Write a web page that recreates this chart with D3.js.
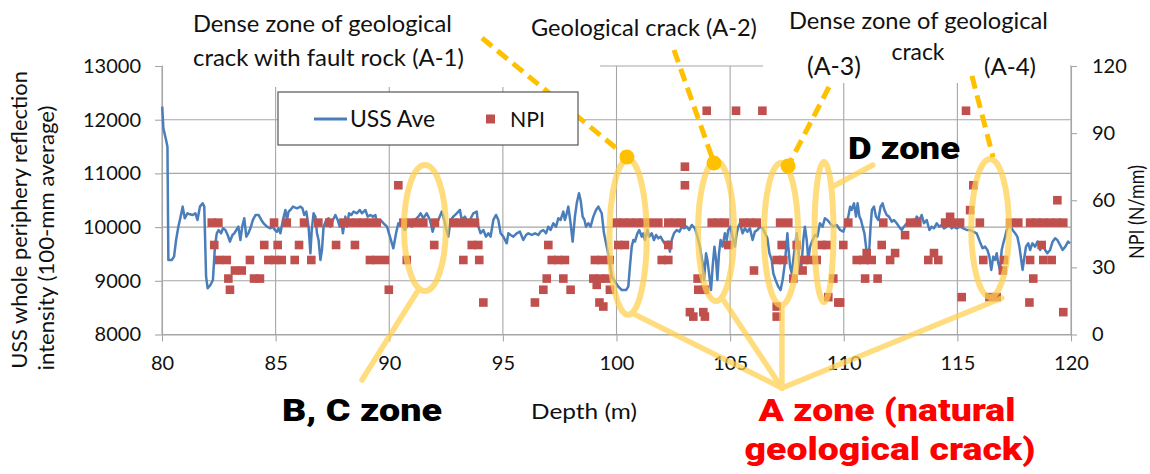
<!DOCTYPE html>
<html><head><meta charset="utf-8">
<script src="https://cdn.jsdelivr.net/npm/d3@7"></script>
<style>
body{margin:0;background:#fff;}
svg{display:block;}
text{font-family:Lato,"Open Sans",sans-serif;fill:#111;}
</style></head><body>
<svg id="c" width="1150" height="474"></svg>
<script>
// ---------------- DATA ----------------
const ussDepth = [80.01,80.06,80.18,80.24,80.28,80.43,80.53,80.62,80.72,80.82,80.91,81.00,81.12,81.23,81.35,81.47,81.56,81.67,81.79,81.86,81.94,82.01,82.13,82.24,82.33,82.41,82.49,82.60,82.68,82.79,82.89,82.99,83.10,83.18,83.27,83.36,83.45,83.53,83.62,83.71,83.80,83.89,84.00,84.12,84.25,84.37,84.47,84.62,84.77,84.87,84.97,85.06,85.13,85.21,85.32,85.43,85.50,85.57,85.65,85.76,85.94,86.09,86.18,86.26,86.35,86.45,86.53,86.59,86.67,86.75,86.82,86.89,86.97,87.04,87.11,87.23,87.33,87.41,87.52,87.63,87.73,87.82,87.89,87.96,88.07,88.14,88.23,88.33,88.43,88.58,88.70,88.80,88.95,89.05,89.17,89.28,89.39,89.46,89.61,89.75,89.90,
90.03,90.18,90.30,90.40,90.55,90.69,90.84,90.99,91.13,91.28,91.38,91.50,91.65,91.79,91.91,92.01,92.16,92.31,92.38,92.50,92.60,92.70,92.82,92.97,93.11,93.19,93.33,93.44,93.55,93.70,93.85,93.92,94.02,94.14,94.26,94.36,94.46,94.58,94.70,94.80,94.90,95.02,95.17,95.24,95.34,95.46,95.61,95.75,95.90,96.02,96.12,96.27,96.41,96.56,96.66,96.78,96.90,97.00,97.10,97.22,97.34,97.44,97.54,97.66,97.73,97.81,97.88,97.98,98.07,98.17,98.25,98.35,98.42,98.51,98.59,98.66,98.76,98.86,98.98,99.10,99.20,
99.35,99.45,99.57,99.69,99.79,99.93,100.08,100.23,100.42,100.52,100.59,100.67,100.74,100.81,100.92,101.00,101.11,101.18,101.25,101.36,101.44,101.55,101.65,101.74,101.84,101.94,102.06,102.16,102.28,102.35,102.43,102.53,102.65,102.77,102.87,102.97,103.09,103.20,103.31,103.45,103.56,103.67,103.79,103.85,103.94,104.00,104.09,104.16,104.23,104.31,104.38,104.44,104.51,104.58,104.67,104.77,104.85,104.92,105.02,105.11,105.21,105.29,105.36,105.43,105.55,105.65,105.76,105.87,105.99,106.09,106.20,106.31,106.43,106.54,106.64,106.73,106.83,106.90,107.00,107.12,107.22,107.31,107.39,107.46,107.52,107.56,107.64,107.71,107.78,107.85,107.93,108.00,108.07,108.15,108.22,108.29,108.37,108.44,108.52,108.63,108.73,108.84,108.95,109.07,109.17,109.28,
109.40,109.54,109.69,109.84,109.98,110.10,110.20,110.28,110.35,110.45,110.54,110.61,110.69,110.76,110.83,110.91,110.98,111.05,111.13,111.18,111.24,111.33,111.42,111.52,111.62,111.71,111.79,111.89,111.99,112.11,112.21,112.33,112.43,112.55,112.65,112.77,112.89,112.99,113.09,113.21,113.33,113.43,113.53,113.65,113.77,113.87,113.97,114.09,114.21,114.31,114.41,114.53,114.65,114.75,114.85,114.97,115.12,115.26,115.41,115.56,115.70,115.85,115.99,116.11,116.22,116.32,116.41,116.49,116.58,116.66,116.73,116.80,116.88,116.95,117.02,117.10,117.17,117.24,117.32,117.43,117.54,117.64,117.73,117.81,117.87,117.93,118.02,118.12,118.20,118.30,118.42,118.52,118.64,118.75,118.86,118.96,119.08,119.19,119.30,119.40,119.52,119.63,119.75,119.87,119.96];
const ussValue = [12243,11840,11622,11498,9388,9388,9450,9760,10008,10195,10381,10164,10257,10238,10226,10257,10133,10381,10443,10381,9077,8860,8922,9015,9636,9884,9946,9884,9977,9946,9853,9729,9853,9884,9946,10008,9760,10008,10164,9822,9884,9977,10133,10226,10226,10133,10071,10008,9977,10008,9946,9915,9977,9884,10133,10319,10133,10288,10319,10381,10350,10381,10350,10226,10288,10008,9512,9946,10257,10195,9884,9760,9388,9574,10008,10133,10164,10008,10133,10226,10133,10008,10133,9884,10195,10008,10257,10226,10288,10257,10319,10257,10319,10195,10226,10195,10226,10071,10133,10071,10008,
9822,9605,9884,10071,10040,9946,10071,10008,10133,10195,10257,10164,10257,10133,9915,10071,10133,10288,10195,9977,9822,10133,10195,10257,10319,10133,10195,10102,10133,10257,10288,10008,9884,9946,9822,9884,9822,10133,10226,10133,9884,9822,9698,9884,9853,9822,9884,9915,9760,9853,9884,9853,9884,9853,9915,9946,9884,10008,9946,10071,10008,10164,10133,10288,10133,10257,10381,10071,9729,10195,10443,10629,10505,10195,10133,10008,10071,10008,10195,10319,10381,
10257,9884,9636,9388,9077,8984,8891,8829,8829,8891,9264,9636,9760,9729,9884,9946,9822,9884,9760,9946,9822,9884,9760,9853,9791,9822,9729,9667,9729,9543,9760,9884,9946,9915,10008,9977,10008,9946,10040,9977,9822,9636,9326,9015,9512,9388,9077,8829,9264,9636,9388,9015,9512,9760,9636,9884,9760,9946,10008,9822,9636,9884,10008,10071,9884,9977,9915,9977,9760,9915,9946,10008,9977,9884,9791,9512,9388,9139,9015,8891,8829,9015,9264,9574,9884,9636,9264,9139,9388,9636,9884,9636,9139,9326,9760,10008,9760,9388,9636,9760,9853,9822,10071,10008,10164,10133,
10071,10008,10040,9946,9915,10071,10195,10381,10319,10443,10195,10443,10195,10133,10008,9884,9636,9326,9636,10008,10319,10381,10195,10133,10381,10443,10319,10226,10195,10102,10133,10071,10008,9946,10008,10071,10040,10133,10071,10195,10133,10226,10071,10133,9946,10008,9977,10071,10008,10040,9977,10008,10040,9977,10008,9977,10008,9977,9946,9946,9915,9884,9729,9605,9636,9574,9450,9202,9450,9388,9512,9326,9202,9574,9698,9822,9946,10008,10040,9946,9884,9822,9636,9388,9202,9388,9636,9698,9574,9698,9636,9729,9574,9698,9574,9512,9574,9729,9791,9760,9667,9574,9636,9729,9698];

const npiDepth = [82.19,82.48,82.30,82.52,82.85,83.21,83.51,82.92,82.99,83.87,84.05,84.31,84.50,84.68,84.97,85.27,84.93,85.09,85.49,86.03,85.84,86.25,86.57,86.88,87.36,87.66,87.98,88.27,88.57,88.86,89.15,89.45,88.49,89.15,89.45,89.81,89.98,
90.40,90.77,90.62,90.91,91.21,91.50,92.01,92.82,93.11,93.41,93.77,91.98,93.63,93.92,93.26,93.96,94.14,97.00,97.15,97.44,97.73,96.93,97.66,96.78,97.98,96.41,
99.05,99.35,99.70,98.98,99.27,99.57,99.13,99.25,99.42,99.71,
103.97,105.26,106.42,103.01,103.01,
100.01,100.30,100.59,100.89,101.18,101.47,101.84,102.28,102.57,102.87,104.19,104.48,104.77,105.58,105.87,106.17,107.20,107.56,
100.08,100.37,102.28,104.92,107.27,107.93,109.03,109.25,
101.99,102.28,107.05,107.34,108.22,108.52,108.81,
106.05,108.19,103.57,107.78,109.54,103.60,103.89,109.32,103.23,103.82,103.38,103.89,107.05,107.05,109.76,
115.38,115.70,119.40,115.56,
110.20,111.74,112.92,113.24,114.46,114.75,115.12,115.99,117.32,117.68,118.20,118.49,118.78,119.08,119.37,119.66,114.68,
109.98,111.67,112.70,118.71,
110.57,110.86,111.23,112.04,113.72,114.16,116.14,117.05,118.20,118.78,119.15,111.01,112.26,113.97,
117.00,110.94,111.49,118.34,115.19,116.41,116.73,109.84,118.17,119.66];
const npiValue = [50,50,40,33.3,33.3,28.6,28.6,25,20,33.3,25,25,40,33.3,33.3,33.3,50,40,50,40,33.3,50,33.3,50,50,40,50,50,50,50,50,50,40,33.3,33.3,33.3,20,
66.7,33.3,50,50,50,50,50,50,50,50,50,40,40,40,33.3,33.3,14.3,40,33.3,33.3,33.3,25,25,20,20,14.3,
33.3,33.3,33.3,25,25,25,22.2,14.3,12.5,20,
100,100,100,75,66.7,
50,50,50,50,50,50,50,50,50,50,50,50,50,50,50,50,50,50,
40,40,40,40,40,40,40,40,
33.3,33.3,33.3,33.3,33.3,33.3,33.3,
28.6,28.6,25,25,25,20,20,16.7,10,10,8,8,8,12.5,14.3,
100,66.7,60,55.6,
50,50,50,50,50,50,50,50,50,50,50,50,50,50,50,50,52.6,
40,40,44.4,40,
33.3,33.3,33.3,33.3,33.3,33.3,33.3,33.3,33.3,33.3,33.3,36.4,36.4,36.4,
28.6,25,25,25,16.7,16.7,16.7,14.3,14.3,10];

const xTicks = [80,85,90,95,100,105,110,115,120];
const yTicks = [8000,9000,10000,11000,12000,13000];
const yRTicks = [0,30,60,90,120];

// annotation zones (depth, USS value, radii in depth / USS units)
const zoneNames = ["B,C","A-1","A-2","A-3","D","A-4"];
const zoneDepth = [91.57,100.51,104.38,107.24,109.13,116.44];
const zoneValue = [9983,9816,9927,9871,9909,9983];
const zoneRx = [0.92,0.82,0.79,0.75,0.42,0.83];
const zoneRy = [1173,1447,1304,1322,1304,1285];

// ---------------- CHART ----------------
const svg = d3.select("#c");
const X0 = 162, X1 = 1071, YT = 66, YB = 334.5;
const x = d3.scaleLinear().domain([80,120]).range([X0,X1]);
const y = d3.scaleLinear().domain([8000,13000]).range([YB,YT]);
const yR = d3.scaleLinear().domain([0,120]).range([YB,YT]);
const gridC = "#a6a6a6";

// gridlines
const grid = svg.append("g");
grid.selectAll(".h").data(yTicks).join("line")
  .attr("x1",X0).attr("x2",X1).attr("y1",d=>y(d)).attr("y2",d=>y(d))
  .attr("stroke",gridC).attr("stroke-width",1.1);
grid.selectAll(".v").data(xTicks).join("line")
  .attr("x1",d=>x(d)).attr("x2",d=>x(d)).attr("y1",YT).attr("y2",YB)
  .attr("stroke",gridC).attr("stroke-width",1.1);

// text-box backgrounds covering the top of the grid
svg.append("rect").attr("x",163).attr("y",0).attr("width",437).attr("height",87).attr("fill","#fff");
svg.append("rect").attr("x",763).attr("y",0).attr("width",307).attr("height",83).attr("fill","#fff");

function styleAxis(g){
  g.select(".domain").attr("stroke",gridC).attr("stroke-width",1.1);
  g.selectAll(".tick line").attr("stroke",gridC).attr("stroke-width",1.1);
  g.selectAll(".tick text").style("font-size","20px").attr("fill","#111").attr("font-family","Lato");
}
svg.append("g").attr("transform",`translate(${X0},0)`)
  .call(d3.axisLeft(y).tickValues(yTicks).tickFormat(d3.format("d")).tickSize(7).tickPadding(14).tickSizeOuter(0))
  .call(styleAxis);
svg.append("g").attr("transform",`translate(${X1},0)`)
  .call(d3.axisRight(yR).tickValues(yRTicks).tickFormat(d3.format("d")).tickSize(6).tickPadding(15).tickSizeOuter(0))
  .call(styleAxis);
svg.append("g").attr("transform",`translate(0,${YB})`)
  .call(d3.axisBottom(x).tickValues(xTicks).tickFormat(d3.format("d")).tickSize(7).tickPadding(14).tickSizeOuter(0))
  .call(styleAxis);

// USS line
const ussData = ussDepth.map((d,i)=>[d,ussValue[i]]);
svg.append("path").datum(ussData)
  .attr("d", d3.line().x(d=>x(d[0])).y(d=>y(d[1])))
  .attr("fill","none").attr("stroke","#4a7ebb").attr("stroke-width",2.5)
  .attr("stroke-linejoin","round");

// NPI squares
const sq = 8.6;
svg.append("g").selectAll("rect").data(npiDepth.map((d,i)=>[d,npiValue[i]])).join("rect")
  .attr("x",d=>x(d[0])-sq/2).attr("y",d=>yR(d[1])-sq/2)
  .attr("width",sq).attr("height",sq).attr("fill","#c0504d");

// highlight ellipses + pointer lines
const hl = svg.append("g").attr("opacity",0.72);
hl.selectAll("ellipse").data(zoneNames).join("ellipse")
  .attr("cx",(d,i)=>x(zoneDepth[i])).attr("cy",(d,i)=>y(zoneValue[i]))
  .attr("rx",(d,i)=>x(zoneDepth[i]+zoneRx[i])-x(zoneDepth[i]))
  .attr("ry",(d,i)=>y(zoneValue[i]-zoneRy[i])-y(zoneValue[i]))
  .attr("fill","none").attr("stroke","#ffd04d").attr("stroke-width",6);
const pointers = [
  [[91.22,8791],[88.80,7153]],
  [[109.48,10747],[111.28,11156]],
  [[100.68,8400],[107.28,7004]],
  [[104.64,8680],[107.28,7004]],
  [[107.28,8493],[107.28,7004]],
  [[116.96,8680],[107.28,7004]]
];
hl.selectAll("line").data(pointers).join("line")
  .attr("x1",d=>x(d[0][0])).attr("y1",d=>y(d[0][1]))
  .attr("x2",d=>x(d[1][0])).attr("y2",d=>y(d[1][1]))
  .attr("stroke","#ffd04d").attr("stroke-width",5.5).attr("stroke-linecap","round");

// dashed callouts
const callouts = [
  [[94.08,13521],[100.46,11305],true],
  [[102.53,13298],[104.29,11194],true],
  [[109.35,12609],[107.55,11138],true],
  [[115.64,12814],[116.57,11305],false]
];
const cg = svg.append("g");
cg.selectAll("line").data(callouts).join("line")
  .attr("x1",d=>x(d[0][0])).attr("y1",d=>y(d[0][1]))
  .attr("x2",d=>x(d[1][0])).attr("y2",d=>y(d[1][1]))
  .attr("stroke","#ffc000").attr("stroke-width",5).attr("stroke-dasharray","13,7");
cg.selectAll("circle").data(callouts.filter(d=>d[2])).join("circle")
  .attr("cx",d=>x(d[1][0])).attr("cy",d=>y(d[1][1])).attr("r",7.5).attr("fill","#ffc000");

// legend
const lg = svg.append("g");
lg.append("rect").attr("x",278).attr("y",92).attr("width",300).attr("height",53)
  .attr("fill","#fff").attr("stroke","#555").attr("stroke-width",1.2);
lg.append("line").attr("x1",314).attr("x2",347).attr("y1",119).attr("y2",119)
  .attr("stroke","#4a7ebb").attr("stroke-width",3);
lg.append("rect").attr("x",486).attr("y",114.5).attr("width",9).attr("height",9).attr("fill","#c0504d");

// ---------- text helpers ----------
function fit(t, w){
  const l = t.node().getComputedTextLength();
  const fs = parseFloat(t.style("font-size"));
  t.style("font-size", (fs*w/l)+"px");
  return t;
}
function label(txt, xx, cy, w, anchor, fs){
  const t = svg.append("text").text(txt).attr("x",xx).attr("text-anchor",anchor||"start")
    .style("font-size",(fs||20)+"px");
  fit(t,w);
  const f = parseFloat(t.style("font-size"));
  t.attr("y", cy + 0.36*f);
  return t;
}
// fixed font size, horizontally scaled to a target width (Calibri-like proportions)
function stext(txt, cx, cy, w, fs, rot){
  const t = svg.append("text").text(txt).attr("text-anchor","middle").style("font-size",fs+"px");
  const l = t.node().getComputedTextLength();
  t.attr("transform",`translate(${cx},${cy}) rotate(${rot||0}) translate(0,${0.36*fs}) scale(${w/l},1)`);
  return t;
}
function bold(txt, cx, cy, w, color){
  const fs = 32;
  const t = svg.append("text").text(txt).attr("text-anchor","middle")
    .style("font-family","Roboto, 'DejaVu Sans', sans-serif").style("font-weight","900")
    .style("font-size",fs+"px").style("fill",color||"#000");
  const l = t.node().getComputedTextLength();
  t.attr("transform",`translate(${cx},${cy+0.355*fs}) scale(${w/l},1)`);
  return t;
}

label("USS Ave",350,119,85);
label("NPI",510,119,35);

label("Dense zone of geological",193,23,259);
label("crack with fault rock (A-1)",193,57,271);
label("Geological crack (A-2)",531,28,226);
label("Dense zone of geological",789,20,259);
label("crack",918,52,53,"middle");
label("(A-3)",834,66,54,"middle");
label("(A-4)",1010,66,52,"middle");

stext("Depth (m)",584,411,106,22);
stext("USS whole periphery reflection",19,220,298,21.5,-90);
stext("intensity  (100-mm average)",46,238,265,21.5,-90);
stext("NPI (N/mm)",1137,212,94,20.5,-90);

bold("B, C zone",362,410,160);
bold("D zone",904,148,112);
bold("A zone (natural",887,410,257,"#ff0000");
bold("geological crack)",890,449,291,"#ff0000");
</script>
</body></html>
